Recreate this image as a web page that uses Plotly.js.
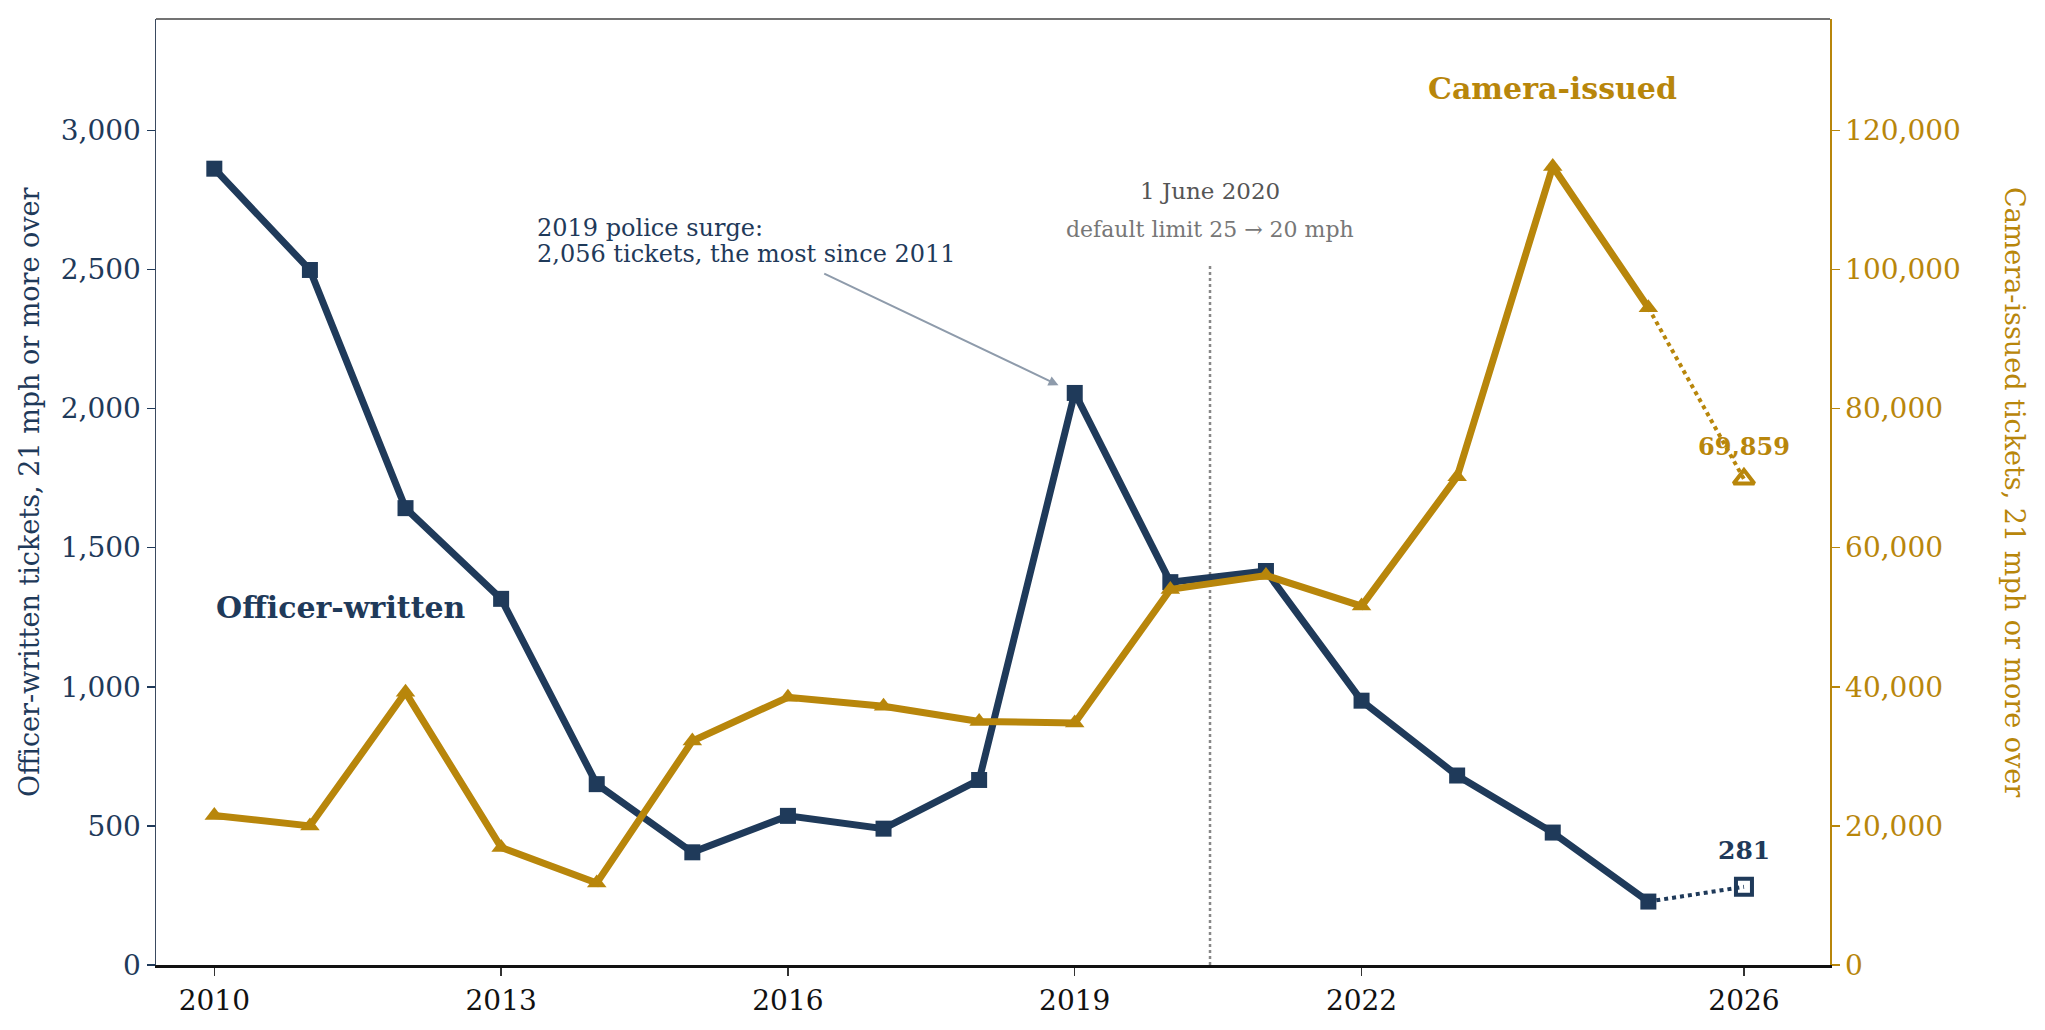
<!DOCTYPE html>
<html>
<head>
<meta charset="utf-8">
<script src="https://cdn.plot.ly/plotly-3.0.1.min.js"></script>
<style>
  html, body { margin: 0; padding: 0; background: #fff; }
  #chart { width: 2045px; height: 1030px; }
</style>
</head>
<body>
<div id="chart"></div>
<script>
// tickets, 21 mph or more over the limit
var years = [2010, 2011, 2012, 2013, 2014, 2015, 2016, 2017, 2018, 2019, 2020, 2021, 2022, 2023, 2024, 2025, 2026];
var officer = [2862, 2498, 1642, 1316, 650, 405, 536, 490, 665, 2056, 1376, 1416, 950, 681, 476, 228, 281];
var camera = [21500, 20000, 39200, 16900, 11800, 32200, 38500, 37200, 35000, 34800, 54000, 56000, 51600, 70200, 114800, 94500, 69859];
var yearTicks = [2010, 2013, 2016, 2019, 2022, 2026];

var navy = '#1f3a5a';
var gold = '#b8860b';
var font = 'DejaVu Serif, serif';

// last full year -> 2026 is shown dotted
var n = years.length;

var cameraSolid = {
  x: years.slice(0, n - 1), y: camera.slice(0, n - 1), yaxis: 'y2',
  mode: 'lines+markers', type: 'scatter',
  line: {color: gold, width: 7},
  marker: {symbol: 'triangle-up', size: 17, color: gold},
  hoverinfo: 'skip'
};
var cameraProj = {
  x: years.slice(n - 2), y: camera.slice(n - 2), yaxis: 'y2',
  mode: 'lines', type: 'scatter',
  line: {color: gold, width: 4, dash: 'dot'},
  hoverinfo: 'skip'
};
var cameraLast = {
  x: [years[n - 1]], y: [camera[n - 1]], yaxis: 'y2',
  mode: 'markers', type: 'scatter',
  marker: {symbol: 'triangle-up-open', size: 18, color: gold, line: {color: gold, width: 4}},
  hoverinfo: 'skip'
};
var officerSolid = {
  x: years.slice(0, n - 1), y: officer.slice(0, n - 1),
  mode: 'lines+markers', type: 'scatter',
  line: {color: navy, width: 7},
  marker: {symbol: 'square', size: 16, color: navy},
  hoverinfo: 'skip'
};
var officerProj = {
  x: years.slice(n - 2), y: officer.slice(n - 2),
  mode: 'lines', type: 'scatter',
  line: {color: navy, width: 4, dash: 'dot'},
  hoverinfo: 'skip'
};
var officerLast = {
  x: [years[n - 1]], y: [officer[n - 1]],
  mode: 'markers', type: 'scatter',
  marker: {symbol: 'square-open', size: 16, color: navy, line: {color: navy, width: 4}},
  hoverinfo: 'skip'
};

var layout = {
  width: 2045, height: 1030,
  margin: {l: 156, r: 215, t: 19, b: 65},
  paper_bgcolor: '#fff', plot_bgcolor: '#fff',
  showlegend: false,
  font: {family: font, size: 24, color: navy},
  xaxis: {
    range: [2009.39, 2026.9],
    tickvals: yearTicks, ticktext: yearTicks.map(String),
    ticks: 'outside', ticklen: 8, tickwidth: 1.5, tickcolor: '#333',
    tickfont: {family: font, size: 28, color: '#111'},
    showline: true, linecolor: '#111', linewidth: 3,
    showgrid: false, zeroline: false
  },
  yaxis: {
    range: [0, 3400],
    tickvals: [0, 500, 1000, 1500, 2000, 2500, 3000],
    tickformat: ',',
    ticks: 'outside', ticklen: 8, tickwidth: 1.5, tickcolor: navy,
    tickfont: {family: font, size: 28, color: navy},
    showline: true, linecolor: '#3a4a60', linewidth: 1.5,
    showgrid: false, zeroline: false
  },
  yaxis2: {
    overlaying: 'y', side: 'right',
    range: [0, 136000],
    tickvals: [0, 20000, 40000, 60000, 80000, 100000, 120000],
    tickformat: ',',
    ticks: 'outside', ticklen: 8, tickwidth: 1.5, tickcolor: gold,
    tickfont: {family: font, size: 28, color: gold},
    showline: true, linecolor: gold, linewidth: 1.5,
    showgrid: false, zeroline: false
  },
  shapes: [
    {type: 'line', xref: 'paper', yref: 'paper', x0: 0, x1: 1, y0: 1, y1: 1,
     line: {color: '#444', width: 1.5}},
    {type: 'line', xref: 'x', yref: 'paper', x0: 2020.415, x1: 2020.415, y0: 0, y1: 0.742,
     layer: 'below', line: {color: '#888', width: 2.5, dash: 'dot'}}
  ],
  annotations: [
    {xref: 'paper', yref: 'paper', x: 0, y: 0.5, xanchor: 'center', yanchor: 'middle',
     xshift: -127, textangle: -90,
     text: 'Officer-written tickets, 21 mph or more over', showarrow: false,
     font: {family: font, size: 27, color: navy}},
    {xref: 'paper', yref: 'paper', x: 1, y: 0.5, xanchor: 'center', yanchor: 'middle',
     xshift: 185, textangle: 90,
     text: 'Camera-issued tickets, 21 mph or more over', showarrow: false,
     font: {family: font, size: 27, color: gold}},
    {xref: 'x', yref: 'y', x: 2011.33, y: 1285, text: '<b>Officer-written</b>', showarrow: false,
     font: {family: font, size: 30, color: navy}},
    {xref: 'x', yref: 'y2', x: 2024.0, y: 126000, text: '<b>Camera-issued</b>', showarrow: false,
     font: {family: font, size: 30, color: gold}},
    {xref: 'x', yref: 'y', x: 2026, y: 281, yshift: 36, text: '<b>281</b>', showarrow: false,
     font: {family: font, size: 25, color: navy}},
    {xref: 'x', yref: 'y2', x: 2026, y: 69859, yshift: 33, text: '<b>69,859</b>', showarrow: false,
     font: {family: font, size: 24, color: gold}},
    {xref: 'x', yref: 'paper', x: 2020.415, y: 0.818, xanchor: 'center', yanchor: 'middle',
     text: '1 June 2020', showarrow: false,
     font: {family: font, size: 23, color: '#555'}},
    {xref: 'x', yref: 'paper', x: 2020.415, y: 0.778, xanchor: 'center', yanchor: 'middle',
     text: 'default limit 25 → 20 mph', showarrow: false,
     font: {family: font, size: 22, color: '#777'}},
    {xref: 'x', yref: 'y', x: 2013.35, y: 2648, xanchor: 'left', yanchor: 'middle', align: 'left',
     text: '2019 police surge:', showarrow: false,
     font: {family: font, size: 24, color: navy}},
    {xref: 'x', yref: 'y', x: 2013.35, y: 2554, xanchor: 'left', yanchor: 'middle', align: 'left',
     text: '2,056 tickets, the most since 2011', showarrow: false,
     font: {family: font, size: 24, color: navy}},
    {xref: 'x', yref: 'y', x: 2019, y: 2056, text: '',
     showarrow: true, arrowhead: 2, arrowsize: 1, arrowwidth: 2, arrowcolor: '#8e9bab',
     ax: -252, ay: -120, standoff: 18}
  ]
};

Plotly.newPlot('chart', [cameraSolid, cameraProj, cameraLast, officerSolid, officerProj, officerLast], layout,
  {displayModeBar: false, staticPlot: true});
</script>
</body>
</html>
